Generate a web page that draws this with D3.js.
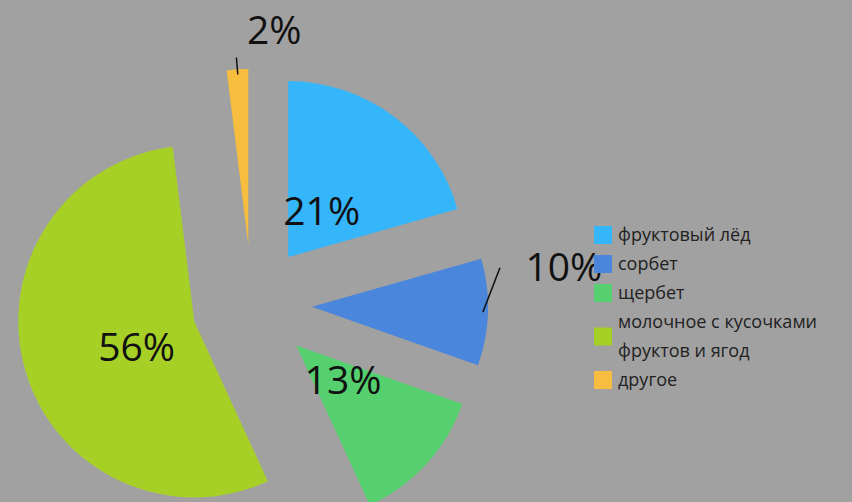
<!DOCTYPE html>
<html><head><meta charset="utf-8">
<script src="https://cdn.jsdelivr.net/npm/d3@7"></script>
<style>html,body{margin:0;padding:0;background:#a1a1a1;}svg{display:block;}</style>
</head><body>
<script>
const categories = ["фруктовый лёд","сорбет","щербет","молочное с кусочками фруктов и ягод","другое"];
const legendLines = [["фруктовый лёд"],["сорбет"],["щербет"],["молочное с кусочками","фруктов и ягод"],["другое"]];
const values = [21,10,13,56,2];
const labels = ["21%","10%","13%","56%","2%"];
const colors = ["#35b6fb","#4a86dc","#56d06f","#a7d027","#f6bd3e"];

const W=852,H=502;
const svg=d3.select("body").append("svg").attr("width",W).attr("height",H);
svg.append("rect").attr("width",W).attr("height",H).attr("fill","#a1a1a1");

const cx=252, cy=305, R=176, explode=60;
const pie=d3.pie().sort(null).value(d=>d)(values);
const arc=d3.arc().innerRadius(0).outerRadius(R);
const dir=a=>[Math.sin(a),-Math.cos(a)];

// label placement: inside labels at distance from slice apex, outside via polar offsets
const labelPlace=[{d:57,da:-1},{d:255,da:-10.7},{d:58,da:-6},{d:63,da:-8},{d:217,da:10.4}];
const leaders=[null,{d:192,da:-13.5},null,null,{d:188,da:-0.1}];

const g=svg.append("g").attr("transform",`translate(${cx},${cy})`);
pie.forEach((p,i)=>{
  const mid=(p.startAngle+p.endAngle)/2;
  const [ux,uy]=dir(mid);
  const ox=ux*explode, oy=uy*explode;
  const sg=g.append("g").attr("transform",`translate(${ox},${oy})`);
  sg.append("path").attr("d",arc(p)).attr("fill",colors[i]);
  const lp=labelPlace[i];
  const la=mid+lp.da*Math.PI/180;
  const [lx,ly]=dir(la);
  sg.append("text").attr("x",lx*lp.d).attr("y",ly*lp.d).attr("dy","0.36em")
    .attr("text-anchor","middle").attr("font-family","Open Sans, sans-serif")
    .attr("font-size",39).attr("fill","#111").text(labels[i]);
  if(leaders[i]){
    const L=leaders[i];
    const [sx,sy]=dir(mid);
    const ea=mid+L.da*Math.PI/180;
    const [ex,ey]=dir(ea);
    sg.append("line").attr("x1",sx*(R-5)).attr("y1",sy*(R-5))
      .attr("x2",ex*L.d).attr("y2",ey*L.d).attr("stroke","#111").attr("stroke-width",1.5);
  }
});

// legend
const lg=svg.append("g").attr("transform","translate(594,226)");
let y=0;
legendLines.forEach((lines,i)=>{
  const h=lines.length*29;
  const yc=y+h/2-14.5+9;
  lg.append("rect").attr("x",0).attr("y",yc-9).attr("width",18).attr("height",18).attr("fill",colors[i]);
  lines.forEach((t,j)=>{
    lg.append("text").attr("x",24).attr("y",y+j*29+9).attr("dy","0.35em")
      .attr("font-family","Open Sans, sans-serif").attr("font-size",18).attr("fill","#222").text(t);
  });
  y+=h;
});
</script>
</body></html>
